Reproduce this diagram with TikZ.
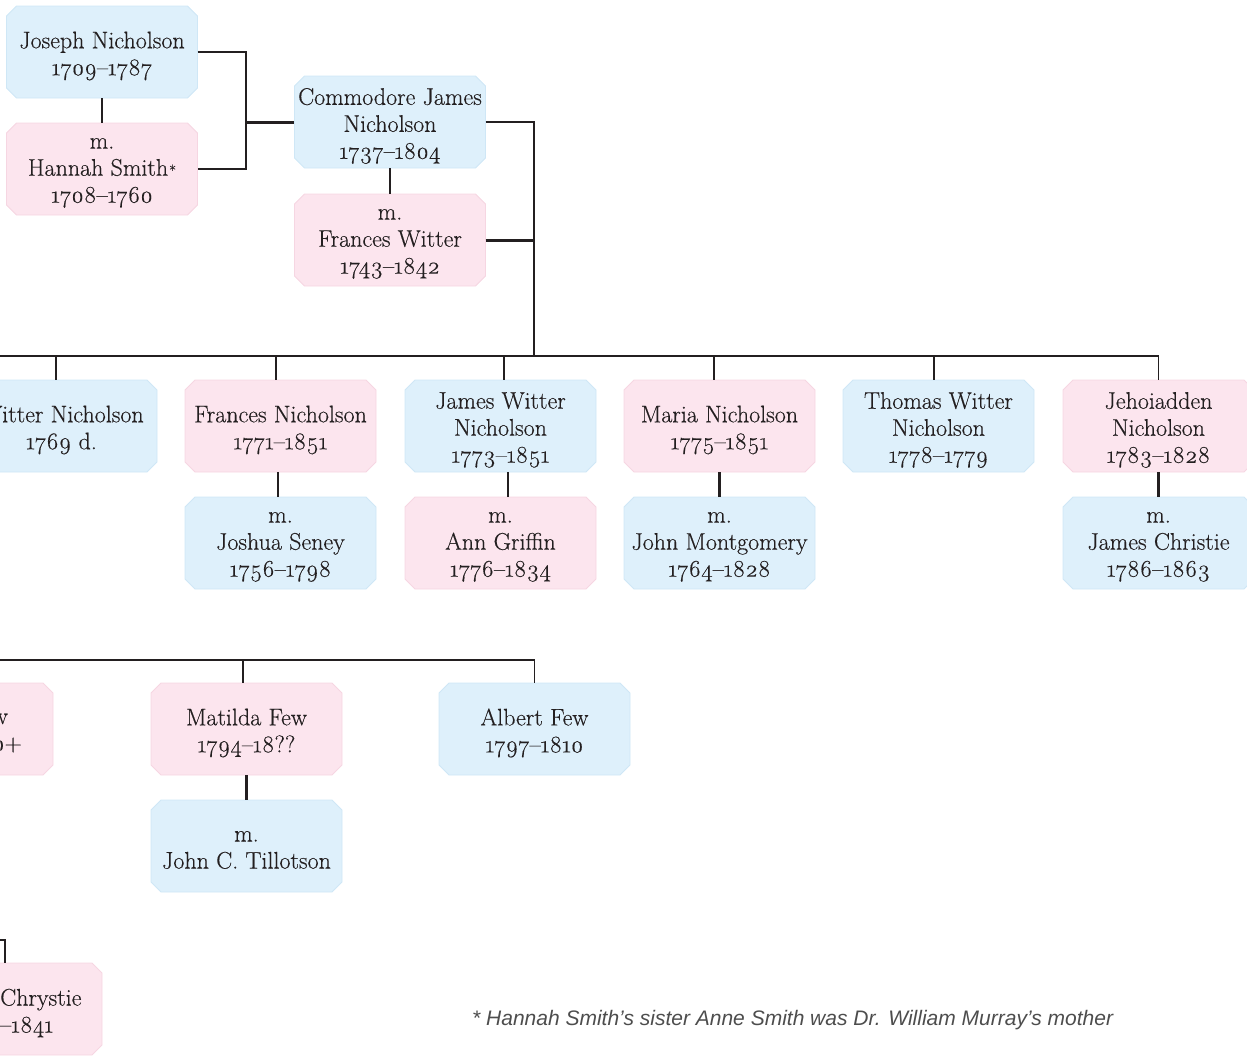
\documentclass[tikz,border=0pt]{standalone}
\usepackage{fontspec}
\setmainfont{Latin Modern Roman}[Numbers=OldStyle, FakeBold=0.35]
\newfontfamily\notefont{Liberation Sans}
\usetikzlibrary{calc}
\definecolor{bluefill}{HTML}{DEF0FB}
\definecolor{blueedge}{HTML}{CFE7F6}
\definecolor{pinkfill}{HTML}{FCE5EE}
\definecolor{pinkedge}{HTML}{F6D6E2}
\definecolor{ink}{HTML}{231F20}
\definecolor{notegray}{HTML}{4D4D4D}
\tikzset{
  pbox/.style={rectangle, minimum width=191pt, minimum height=92pt, inner sep=0pt},
  ptext/.style={inner sep=0pt, align=center, text=ink, font=\fontsize{24}{27}\selectfont},
  frag/.style={inner sep=0pt, text=ink, font=\fontsize{24}{27}\selectfont},
  conn/.style={draw=ink, line width=1.5pt},
  drop/.style={draw=ink, line width=2.2pt},
  thickc/.style={draw=ink, line width=3pt},
}
\newcommand\person[4]{%
  \path[fill=#3fill, draw=#3edge, line width=0.8pt] (#2) ++(-85.5,-46) -- ++(171,0) -- ++(10,10)
    -- ++(0,72) -- ++(-10,10) -- ++(-171,0) -- ++(-10,-10) -- ++(0,-72) -- cycle;
  \node[pbox] (#1) at (#2) {};
  \node[ptext] (#1t) at ([yshift=-4pt]#1.center) {#4};
}
\newcommand\hstar{\kern1pt{\fontsize{15}{15}\selectfont *}}
\begin{document}
\begin{tikzpicture}[x=1pt,y=-1pt]
\useasboundingbox (0,0) rectangle (1247,1055);
\clip (0,0) rectangle (1247,1055);

% generation 1
\person{jn}{102,52}{blue}{Joseph Nicholson\\1709--1787}
\person{hs}{102,169}{pink}{m.\\Hannah Smith\hstar\\1708--1760}
% generation 2
\person{cjn}{390,122}{blue}{Commodore James\\Nicholson\\1737--1804}
\person{fw}{390,240}{pink}{m.\\Frances Witter\\1743--1842}
% generation 3
\person{c1}{61.5,426}{blue}{Witter Nicholson\\1769 d.}
\person{c2}{280.5,426}{pink}{Frances Nicholson\\1771--1851}
\person{s2}{280.5,543}{blue}{m.\\Joshua Seney\\1756--1798}
\person{c3}{500.5,426}{blue}{James Witter\\Nicholson\\1773--1851}
\person{s3}{500.5,543}{pink}{m.\\Ann Griffin\\1776--1834}
\person{c4}{719.5,426}{pink}{Maria Nicholson\\1775--1851}
\person{s4}{719.5,543}{blue}{m.\\John Montgomery\\1764--1828}
\person{c5}{938.5,426}{blue}{Thomas Witter\\Nicholson\\1778--1779}
\person{c6}{1158.5,426}{pink}{Jehoiadden\\Nicholson\\1783--1828}
\person{s6}{1158.5,543}{blue}{m.\\James Christie\\1786--1863}
% generation 4
\person{f0}{-42.5,729}{pink}{}
\node[frag, anchor=base east] (f0a) at (8,724) {w};
\node[frag, anchor=base east] (f0b) at (22,751) {0+};
\person{mf}{246.5,729}{pink}{Matilda Few\\1794--18??}
\person{jt}{246.5,846}{blue}{m.\\John C. Tillotson}
\person{af}{534.5,729}{blue}{Albert Few\\1797--1810}
\person{bl}{6.5,1009}{pink}{}
\node[frag, anchor=west, align=left] (bla) at (0,1013) {Chrystie\\--1841};

% connectors
\coordinate (jj) at (246,122);
\draw[conn] (jn.east) -| (jj) |- (hs.east);
\draw[thickc] (jj) -- (cjn.west);
\draw[drop] (jn.south) -- (hs.north);
\draw[drop] (cjn.south) -- (fw.north);
\coordinate (tr) at (534,356);
\draw[conn] (cjn.east) -| (tr);
\draw[thickc] (fw.east) -- (fw.east -| tr);
\coordinate (barL) at (0,356);
\draw[conn] (barL) -| (c6.north);
\draw[drop] ([xshift=-5.5pt]c1.north) -- ([xshift=-5.5pt]c1.north |- barL);
\draw[drop] ([xshift=-4.5pt]c2.north) -- ([xshift=-4.5pt]c2.north |- barL);
\draw[drop] ([xshift=3.5pt]c3.north) -- ([xshift=3.5pt]c3.north |- barL);
\draw[drop] ([xshift=-5.5pt]c4.north) -- ([xshift=-5.5pt]c4.north |- barL);
\draw[drop] ([xshift=-4.5pt]c5.north) -- ([xshift=-4.5pt]c5.north |- barL);
\draw[drop] ([xshift=-2.5pt]c2.south) -- ([xshift=-2.5pt]s2.north);
\draw[drop] ([xshift=7.5pt]c3.south) -- ([xshift=7.5pt]s3.north);
\draw[drop] (c4.south) -- (s4.north);
\draw[drop] (c6.south) -- (s6.north);
\coordinate (barB) at (0,660);
\draw[conn] (barB) -| (af.north);
\draw[drop] ([xshift=-3.5pt]mf.north) -- ([xshift=-3.5pt]mf.north |- barB);
\draw[drop] (mf.south) -- (jt.north);
\coordinate (blc) at (0,940);
\draw[conn] (blc) -| ([xshift=-1.5pt]bl.north);

\node[anchor=west, inner sep=0pt, text=notegray, font=\notefont\itshape\fontsize{21}{25}\selectfont] (note) at (472,1020)
  {* Hannah Smith’s sister Anne Smith was Dr. William Murray’s mother};
\end{tikzpicture}
\end{document}
